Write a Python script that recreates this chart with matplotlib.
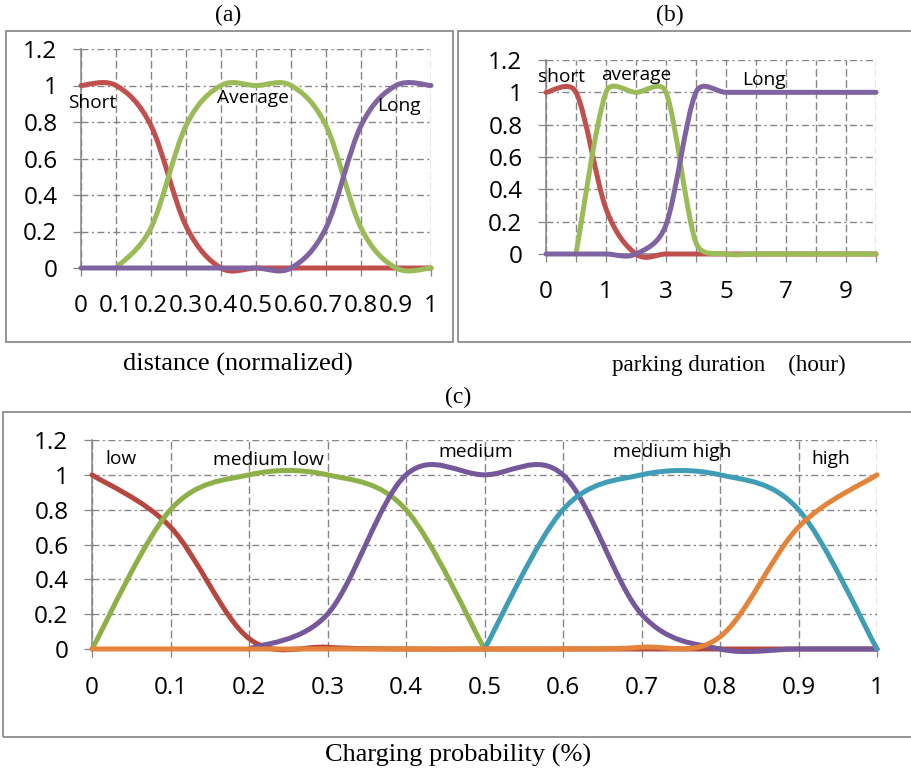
import numpy as np
import matplotlib
matplotlib.use('Agg')
import matplotlib.pyplot as plt
from matplotlib.path import Path
from matplotlib.patches import PathPatch, Rectangle

nan = np.nan

# ---------------- data ----------------
# (a) distance (normalized)
dist_x = [0, 0.1, 0.2, 0.3, 0.4, 0.5, 0.6, 0.7, 0.8, 0.9, 1.0]
dist_labels = ['0', '0.1', '0.2', '0.3', '0.4', '0.5', '0.6', '0.7', '0.8', '0.9', '1']
dist_short = [1, 1, 0.78, 0.23, 0, 0, 0, 0, 0, 0, 0]
dist_average = [nan, 0, 0.22, 0.78, 1, 1, 1, 0.78, 0.22, 0, 0]
dist_long = [0, 0, 0, 0, 0, 0, 0, 0.22, 0.78, 1, 1]

# (b) parking duration (hour)
park_labels = ['0', '0.5', '1', '2', '3', '4', '5', '6', '7', '8', '9', '10']
park_short = [1, 1, 0.28, 0, 0, 0, 0, 0, 0, 0, 0, 0]
park_average = [nan, 0, 1, 1, 1, 0.07, 0, 0, 0, 0, 0, 0]
park_long = [0, 0, 0, 0, 0.18, 1, 1, 1, 1, 1, 1, 1]

# (c) charging probability
prob_x = [0, 0.1, 0.2, 0.3, 0.4, 0.5, 0.6, 0.7, 0.8, 0.9, 1.0]
prob_labels = ['0', '0.1', '0.2', '0.3', '0.4', '0.5', '0.6', '0.7', '0.8', '0.9', '1']
prob_low = [1, 0.7, 0.06, 0.01, 0, 0, 0, 0, 0, 0, 0]
prob_medium_low = [0, 0.8, 1, 1, 0.8, 0, nan, nan, nan, nan, nan]
prob_medium = [nan, nan, 0, 0.2, 1, 1, 1, 0.2, 0, 0, 0]
prob_medium_high = [nan, nan, nan, nan, nan, 0, 0.8, 1, 1, 0.8, 0]
prob_high = [0, 0, 0, 0, 0, 0, 0, 0.01, 0.07, 0.7, 1]

y_ticks = [0, 0.2, 0.4, 0.6, 0.8, 1.0, 1.2]
y_labels = ['0', '0.2', '0.4', '0.6', '0.8', '1', '1.2']

# ---------------- style ----------------
W, H = 911, 775
SANS = 'Open Sans'
SERIF = 'Liberation Serif'
plt.rcParams['font.family'] = [SANS, 'DejaVu Sans']
GRID = '#858585'
RED, GREEN, PURPLE, CYAN, ORANGE = '#C0504D', '#9BBB59', '#8064A2', '#4BACC6', '#F79646'
RED_C, GREEN_C, PURPLE_C, CYAN_C, ORANGE_C = '#B5473F', '#8DB049', '#74589A', '#3F9DB6', '#E4843A'
LW = 3.6
TICK_SIZE = 17.5
NOTE_SIZE = 13.8

fig = plt.figure(figsize=(W / 100, H / 100), dpi=100)


def px_axes(left, top, right, bottom):
    return fig.add_axes([left / W, 1 - bottom / H, (right - left) / W, (bottom - top) / H])


def frame(left, top, right, bottom):
    fig.add_artist(Rectangle((left / W, 1 - bottom / H), (right - left) / W, (bottom - top) / H,
                             transform=fig.transFigure, fill=False, ec='#8c8c8c', lw=1.3))


def smooth_line(ax, xs, ys, color):
    pts = np.array([(x, y) for x, y in zip(xs, ys) if not np.isnan(y)], dtype=float)
    disp = ax.transData.transform(pts)
    n = len(disp)
    verts = [disp[0]]
    codes = [Path.MOVETO]
    for i in range(n - 1):
        p1, p2 = disp[i], disp[i + 1]
        p0 = disp[i - 1] if i > 0 else p1
        p3 = disp[i + 2] if i + 2 < n else p2
        d12 = np.hypot(*(p2 - p1))
        d02 = np.hypot(*(p2 - p0))
        d13 = np.hypot(*(p3 - p1))
        f1 = 1 / 6 if d02 / 6 < d12 / 2 else d12 / 2 / d02
        f2 = 1 / 6 if d13 / 6 < d12 / 2 else d12 / 2 / d13
        verts += [p1 + (p2 - p0) * f1, p2 - (p3 - p1) * f2, p2]
        codes += [Path.CURVE4] * 3
    dv = ax.transData.inverted().transform(np.array(verts))
    ax.add_patch(PathPatch(Path(dv, codes), fill=False, ec=color, lw=LW,
                           capstyle='round', joinstyle='round', clip_on=False, zorder=3))


def style_axes(ax, xticks, xlabels, xlim, xpad, ypad):
    ax.set_xlim(*xlim)
    ax.set_ylim(0, 1.2)
    ax.set_xticks(xticks, xlabels, fontsize=TICK_SIZE, family=SANS)
    ax.set_yticks(y_ticks, y_labels, fontsize=TICK_SIZE, family=SANS)
    for s in ('top', 'right'):
        ax.spines[s].set_visible(False)
    for s in ('left', 'bottom'):
        ax.spines[s].set_color(GRID)
        ax.spines[s].set_linewidth(1.1)
    ax.tick_params(axis='both', direction='out', length=6, width=0.9, color=GRID,
                   labelsize=TICK_SIZE, labelcolor='black')
    ax.tick_params(axis='x', pad=xpad)
    ax.tick_params(axis='y', pad=ypad)
    ax.xaxis.grid(True, linestyle=(0, (5.5, 2.5)), color=GRID, lw=1.0)
    ax.yaxis.grid(True, linestyle=(0, (5, 2.5, 1.5, 2.5)), color=GRID, lw=1.0)
    ax.set_axisbelow(True)
    ax.patch.set_visible(False)


# ---------------- panel (a) ----------------
frame(6, 31, 453, 342)
axa = px_axes(81, 49, 431, 268)
style_axes(axa, dist_x, dist_labels, (0, 1), 12.5, 11)
smooth_line(axa, dist_x, dist_short, RED)
smooth_line(axa, dist_x, dist_average, GREEN)
smooth_line(axa, dist_x, dist_long, PURPLE)
axa.text(-0.037, 0.904, 'Short', family=SANS, fontsize=NOTE_SIZE, va='center', ha='left', zorder=5)
axa.text(0.389, 0.93, 'Average', family=SANS, fontsize=NOTE_SIZE, va='center', ha='left', zorder=5)
axa.text(0.846, 0.888, 'Long', family=SANS, fontsize=NOTE_SIZE, va='center', ha='left', zorder=5)
fig.text(228 / W, 1 - 15 / H, '(a)', family=SERIF, fontsize=17, ha='center', va='center')
fig.text(238 / W, 1 - 364 / H, 'distance (normalized)', family=SERIF, fontsize=19,
         ha='center', va='center')

# ---------------- panel (b) ----------------
frame(458, 31, 915, 342)
axb = px_axes(546, 60, 876, 254)
park_idx = list(range(len(park_labels)))
style_axes(axb, park_idx, [l if i % 2 == 0 else '' for i, l in enumerate(park_labels)],
           (0, len(park_labels) - 1), 12.5, 11)
smooth_line(axb, park_idx, park_short, RED)
smooth_line(axb, park_idx, park_average, GREEN)
smooth_line(axb, park_idx, park_long, PURPLE)
axb.text(-0.27, 1.095, 'short', family=SANS, fontsize=NOTE_SIZE, va='center', ha='left', zorder=5)
axb.text(1.83, 1.107, 'average', family=SANS, fontsize=NOTE_SIZE, va='center', ha='left', zorder=5)
axb.text(6.53, 1.076, 'Long', family=SANS, fontsize=NOTE_SIZE, va='center', ha='left', zorder=5)
fig.text(670 / W, 1 - 15 / H, '(b)', family=SERIF, fontsize=17, ha='center', va='center')
fig.text(729 / W, 1 - 365 / H, 'parking duration    (hour)', family=SERIF, fontsize=16.7,
         ha='center', va='center')

# ---------------- panel (c) ----------------
frame(3, 412, 915, 737)
axc = px_axes(92, 440, 877, 649)
style_axes(axc, prob_x, prob_labels, (0, 1), 13.5, 11)
smooth_line(axc, prob_x, prob_low, RED_C)
smooth_line(axc, prob_x, prob_medium_low, GREEN_C)
smooth_line(axc, prob_x, prob_medium, PURPLE_C)
smooth_line(axc, prob_x, prob_medium_high, CYAN_C)
smooth_line(axc, prob_x, prob_high, ORANGE_C)
for txt, x, y in [('low', 0.0166, 1.092), ('medium low', 0.154, 1.086), ('medium', 0.441, 1.132),
                  ('medium high', 0.664, 1.132), ('high', 0.916, 1.092)]:
    axc.text(x, y, txt, family=SANS, fontsize=NOTE_SIZE, va='center', ha='left', zorder=5)
fig.text(458 / W, 1 - 397 / H, '(c)', family=SERIF, fontsize=17, ha='center', va='center')
fig.text(458 / W, 1 - 755 / H, 'Charging probability (%)', family=SERIF, fontsize=19,
         ha='center', va='center')

fig.savefig('out.png', dpi=100)
